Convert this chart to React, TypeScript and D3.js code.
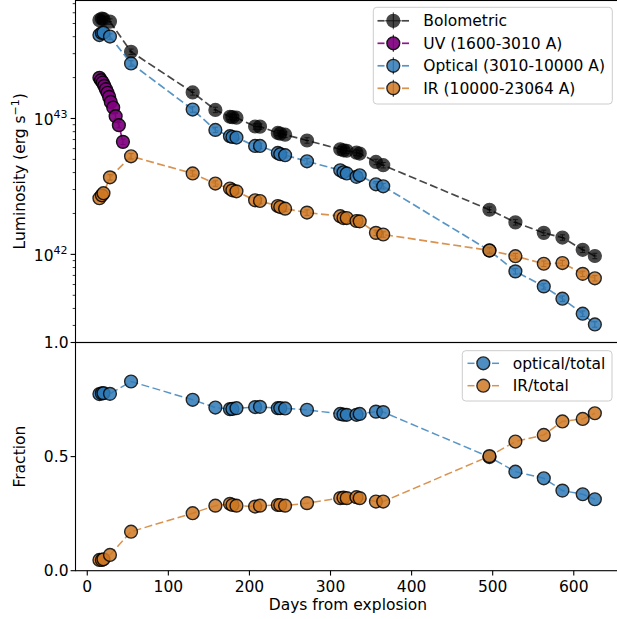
import React from "react";
import * as d3 from "d3";

// Epochs (days from explosion) shared by the bolometric, optical and IR light curves
const epochs = [
  15, 18, 20, 28, 54, 130, 158, 176, 179, 184, 207, 213, 235, 238, 244, 271,
  312, 316, 320, 332, 336, 356, 365, 496, 528, 563, 586, 611, 626,
];

// Luminosities in units of 1e42 erg/s
const bolometric = [
  52.97, 54.33, 53.95, 51.64, 30.97, 15.56, 11.56, 10.3, 10.23, 10.14, 8.73, 8.71,
  7.83, 7.74, 7.6, 6.89, 5.94, 5.83, 5.79, 5.6, 5.52, 4.79, 4.53, 2.13, 1.72, 1.44,
  1.33, 1.08, 0.973,
];
const optical = [
  41.11, 42.56, 42.76, 40.09, 25.41, 11.64, 8.24, 7.41, 7.31, 7.24, 6.28, 6.28,
  5.58, 5.46, 5.37, 4.84, 4.16, 4.02, 3.94, 3.72, 3.82, 3.28, 3.17, 1.067, 0.75,
  0.581, 0.472, 0.366, 0.305,
];
const infrared = [
  2.59, 2.72, 2.82, 3.69, 5.27, 3.94, 3.32, 3.05, 2.96, 2.91, 2.5, 2.47, 2.27,
  2.23, 2.17, 2.03, 1.91, 1.85, 1.85, 1.76, 1.75, 1.44, 1.4, 1.069, 0.97, 0.853,
  0.863, 0.719, 0.667,
];

// UV coverage only exists at early times
const uvEpochs = [15, 17, 19, 21, 23, 25, 27, 29, 32, 35, 39, 44];
const ultraviolet = [19.91, 19.14, 18.41, 17.38, 16.44, 15.45, 14.42, 13.24, 12.05, 10.4, 8.93, 6.73];

// Fractions of the total luminosity
const opticalFraction = [
  0.774, 0.777, 0.778, 0.775, 0.829, 0.749, 0.715, 0.708, 0.709, 0.712, 0.717,
  0.718, 0.712, 0.712, 0.711, 0.705, 0.687, 0.684, 0.683, 0.683, 0.687, 0.697,
  0.695, 0.498, 0.434, 0.405, 0.351, 0.335, 0.313,
];
const infraredFraction = [
  0.047, 0.047, 0.05, 0.069, 0.171, 0.252, 0.285, 0.293, 0.288, 0.285, 0.281,
  0.285, 0.288, 0.288, 0.285, 0.296, 0.318, 0.32, 0.318, 0.322, 0.318, 0.303,
  0.303, 0.502, 0.566, 0.595, 0.654, 0.665, 0.69,
];

const dayTicks = [0, 100, 200, 300, 400, 500, 600];
const fractionTicks = [0, 0.5, 1.0];
const fractionTickLabels = ["0.0", "0.5", "1.0"];
const lumDecades = [42, 43];

const topLegendLabels = ["Bolometric", "UV (1600-3010 A)", "Optical (3010-10000 A)", "IR (10000-23064 A)"];
const bottomLegendLabels = ["optical/total", "IR/total"];

const UNIT = 1e42;
const FONT = "'DejaVu Sans', sans-serif";
const FS = 15.5;
const R = 6.4;
const DASH = "8,3.5";

type Series = {
  days: number[];
  values: number[];
  fill: string;
  opacity: number;
  stroke: string;
  lineColor: string;
  lineOpacity: number;
  xerr: boolean;
};

export default function App() {
  const W = 617;
  const H = 619;
  const left = 75.5;
  const right = 620.4;
  const topY0 = 0;
  const midY = 342.5;
  const botY = 570.7;

  const x = d3.scaleLinear().domain([-14.5, 657.5]).range([left, right]);
  const yL = d3.scaleLog().domain([10 ** 41.3515, 10 ** 43.872]).range([midY, topY0]);
  const yF = d3.scaleLinear().domain([0, 1]).range([botY, midY]);

  const errDex = 0.02;
  const errDays = 2.5;

  const topSeries: Series[] = [
    { days: epochs, values: bolometric, fill: "#000", opacity: 0.72, stroke: "#000", lineColor: "#000", lineOpacity: 0.72, xerr: true },
    { days: uvEpochs, values: ultraviolet, fill: "#800080", opacity: 0.92, stroke: "#000", lineColor: "#800080", lineOpacity: 0.9, xerr: false },
    { days: epochs, values: optical, fill: "#2e7ab8", opacity: 0.85, stroke: "#000", lineColor: "#2e7ab8", lineOpacity: 0.8, xerr: false },
    { days: epochs, values: infrared, fill: "#cf7823", opacity: 0.85, stroke: "#000", lineColor: "#cf7823", lineOpacity: 0.8, xerr: false },
  ];

  const bottomSeries = [
    { values: opticalFraction, fill: "#2e7ab8", lineColor: "#2e7ab8" },
    { values: infraredFraction, fill: "#cf7823", lineColor: "#cf7823" },
  ];

  const lumLine = d3
    .line<[number, number]>()
    .x((d) => x(d[0]))
    .y((d) => yL(d[1] * UNIT));
  const fracLine = d3
    .line<[number, number]>()
    .x((d) => x(d[0]))
    .y((d) => yF(d[1]));

  // minor ticks for the log axis
  const minorTicks: number[] = [];
  [41, 42, 43].forEach((dec) => {
    for (let k = 2; k <= 9; k++) {
      const v = k * 10 ** dec;
      const [lo, hi] = yL.domain();
      if (v > lo && v < hi) minorTicks.push(v);
    }
  });

  const textStyle = { fontFamily: FONT, fontSize: FS, fill: "#000" } as const;

  return (
    <svg
      width={W}
      height={H}
      viewBox={`0 0 ${W} ${H}`}
      style={{ position: "absolute", left: 0, top: 0, background: "#fff" }}
    >
      <rect x={0} y={0} width={W} height={H} fill="#fff" />

      {/* ---------- upper panel: luminosities ---------- */}
      {topSeries.map((s, si) => {
        const pts: [number, number][] = s.days.map((d, i) => [d, s.values[i]]);
        return (
          <g key={"ts" + si}>
            {/* error bars */}
            <g stroke="#000" strokeWidth={1} opacity={s.opacity}>
              {pts.map(([d, v], i) => {
                const cx = x(d);
                const y1 = yL(v * UNIT * 10 ** errDex);
                const y2 = yL(v * UNIT * 10 ** -errDex);
                return (
                  <g key={i}>
                    <line x1={cx} x2={cx} y1={y1} y2={y2} />
                    <line x1={cx - 2.5} x2={cx + 2.5} y1={y1} y2={y1} />
                    <line x1={cx - 2.5} x2={cx + 2.5} y1={y2} y2={y2} />
                    {s.xerr && (
                      <line x1={x(d - errDays)} x2={x(d + errDays)} y1={yL(v * UNIT)} y2={yL(v * UNIT)} />
                    )}
                  </g>
                );
              })}
            </g>
            <path
              d={lumLine(pts) || ""}
              fill="none"
              stroke={s.lineColor}
              strokeOpacity={s.lineOpacity}
              strokeWidth={1.7}
              strokeDasharray={DASH}
            />
            {pts.map(([d, v], i) => (
              <circle
                key={i}
                cx={x(d)}
                cy={yL(v * UNIT)}
                r={R}
                fill={s.fill}
                stroke={s.stroke}
                strokeWidth={1.4}
                opacity={s.opacity}
              />
            ))}
          </g>
        );
      })}

      {/* ---------- lower panel: fractions ---------- */}
      {bottomSeries.map((s, si) => {
        const pts: [number, number][] = epochs.map((d, i) => [d, s.values[i]]);
        return (
          <g key={"bs" + si}>
            <path
              d={fracLine(pts) || ""}
              fill="none"
              stroke={s.lineColor}
              strokeOpacity={0.8}
              strokeWidth={1.5}
              strokeDasharray={DASH}
            />
            {pts.map(([d, v], i) => (
              <circle
                key={i}
                cx={x(d)}
                cy={yF(v)}
                r={R}
                fill={s.fill}
                stroke="#000"
                strokeWidth={1.4}
                opacity={0.85}
              />
            ))}
          </g>
        );
      })}

      {/* ---------- spines ---------- */}
      <g stroke="#000" strokeWidth={1.1} fill="none">
        <rect x={left} y={topY0 + 0.5} width={right - left} height={midY - topY0 - 0.5} />
        <rect x={left} y={midY} width={right - left} height={botY - midY} />
      </g>

      {/* ---------- y axis (luminosity) ---------- */}
      <g stroke="#000">
        {lumDecades.map((dec) => (
          <line key={dec} x1={left - 4.9} x2={left} y1={yL(10 ** dec)} y2={yL(10 ** dec)} strokeWidth={1.1} />
        ))}
        {minorTicks.map((v, i) => (
          <line key={i} x1={left - 2.8} x2={left} y1={yL(v)} y2={yL(v)} strokeWidth={0.8} />
        ))}
      </g>
      {lumDecades.map((dec) => (
        <text key={"lt" + dec} x={67.5} y={yL(10 ** dec) + 6.5} textAnchor="end" style={textStyle}>
          10
          <tspan dy={-6.5} fontSize={11}>
            {dec}
          </tspan>
        </text>
      ))}
      <text transform={`translate(24.5,${(topY0 + midY) / 2}) rotate(-90)`} textAnchor="middle" style={textStyle}>
        Luminosity (erg s
        <tspan dy={-6} fontSize={11}>
          −1
        </tspan>
        <tspan dy={6}>)</tspan>
      </text>

      {/* ---------- y axis (fraction) ---------- */}
      <g stroke="#000" strokeWidth={1.1}>
        {fractionTicks.map((t) => (
          <line key={t} x1={left - 4.9} x2={left} y1={yF(t)} y2={yF(t)} />
        ))}
      </g>
      {fractionTicks.map((t, i) => (
        <text key={"ft" + t} x={68.5} y={yF(t) + 5.6} textAnchor="end" style={textStyle}>
          {fractionTickLabels[i]}
        </text>
      ))}
      <text transform={`translate(24.5,${(midY + botY) / 2}) rotate(-90)`} textAnchor="middle" style={textStyle}>
        Fraction
      </text>

      {/* ---------- x axis ---------- */}
      <g stroke="#000" strokeWidth={1.1}>
        {dayTicks.map((t) => (
          <line key={t} x1={x(t)} x2={x(t)} y1={botY} y2={botY + 4.9} />
        ))}
      </g>
      {dayTicks.map((t) => (
        <text key={"xt" + t} x={x(t)} y={591.5} textAnchor="middle" style={textStyle}>
          {t}
        </text>
      ))}
      <text x={(left + right) / 2} y={609.5} textAnchor="middle" style={textStyle}>
        Days from explosion
      </text>

      {/* ---------- legend, upper panel ---------- */}
      <g>
        <rect x={373.3} y={7.3} width={239} height={96.7} rx={3.5} fill="#fff" fillOpacity={0.8} stroke="#cccccc" strokeWidth={1} />
        {topLegendLabels.map((label, i) => {
          const s = topSeries[i];
          const cy = 20.8 + i * 22.5;
          const cx = 393.3;
          return (
            <g key={label}>
              <g stroke={s.lineColor} strokeOpacity={s.lineOpacity} strokeWidth={1.7}>
                <line x1={377.5} x2={384.5} y1={cy} y2={cy} />
                <line x1={402} x2={409} y1={cy} y2={cy} />
              </g>
              <g stroke="#000" strokeWidth={1} opacity={s.opacity}>
                <line x1={cx} x2={cx} y1={cy - 8.5} y2={cy + 8.5} />
                {s.xerr && <line x1={cx - 8.5} x2={cx + 8.5} y1={cy} y2={cy} />}
              </g>
              <circle cx={cx} cy={cy} r={R} fill={s.fill} stroke={s.stroke} strokeWidth={1.4} opacity={s.opacity} />
              <text x={423.3} y={cy + 5.6} style={textStyle}>
                {label}
              </text>
            </g>
          );
        })}
      </g>

      {/* ---------- legend, lower panel ---------- */}
      <g>
        <rect x={462.3} y={350.7} width={149.7} height={50.3} rx={3.5} fill="#fff" fillOpacity={0.8} stroke="#cccccc" strokeWidth={1} />
        {bottomLegendLabels.map((label, i) => {
          const s = bottomSeries[i];
          const cy = 363.3 + i * 22.4;
          const cx = 483.3;
          return (
            <g key={label}>
              <g stroke={s.lineColor} strokeOpacity={0.8} strokeWidth={1.5}>
                <line x1={467.5} x2={474.5} y1={cy} y2={cy} />
                <line x1={492} x2={499} y1={cy} y2={cy} />
              </g>
              <circle cx={cx} cy={cy} r={R} fill={s.fill} stroke="#000" strokeWidth={1.4} opacity={0.85} />
              <text x={512.7} y={cy + 5.6} style={textStyle}>
                {label}
              </text>
            </g>
          );
        })}
      </g>
    </svg>
  );
}
